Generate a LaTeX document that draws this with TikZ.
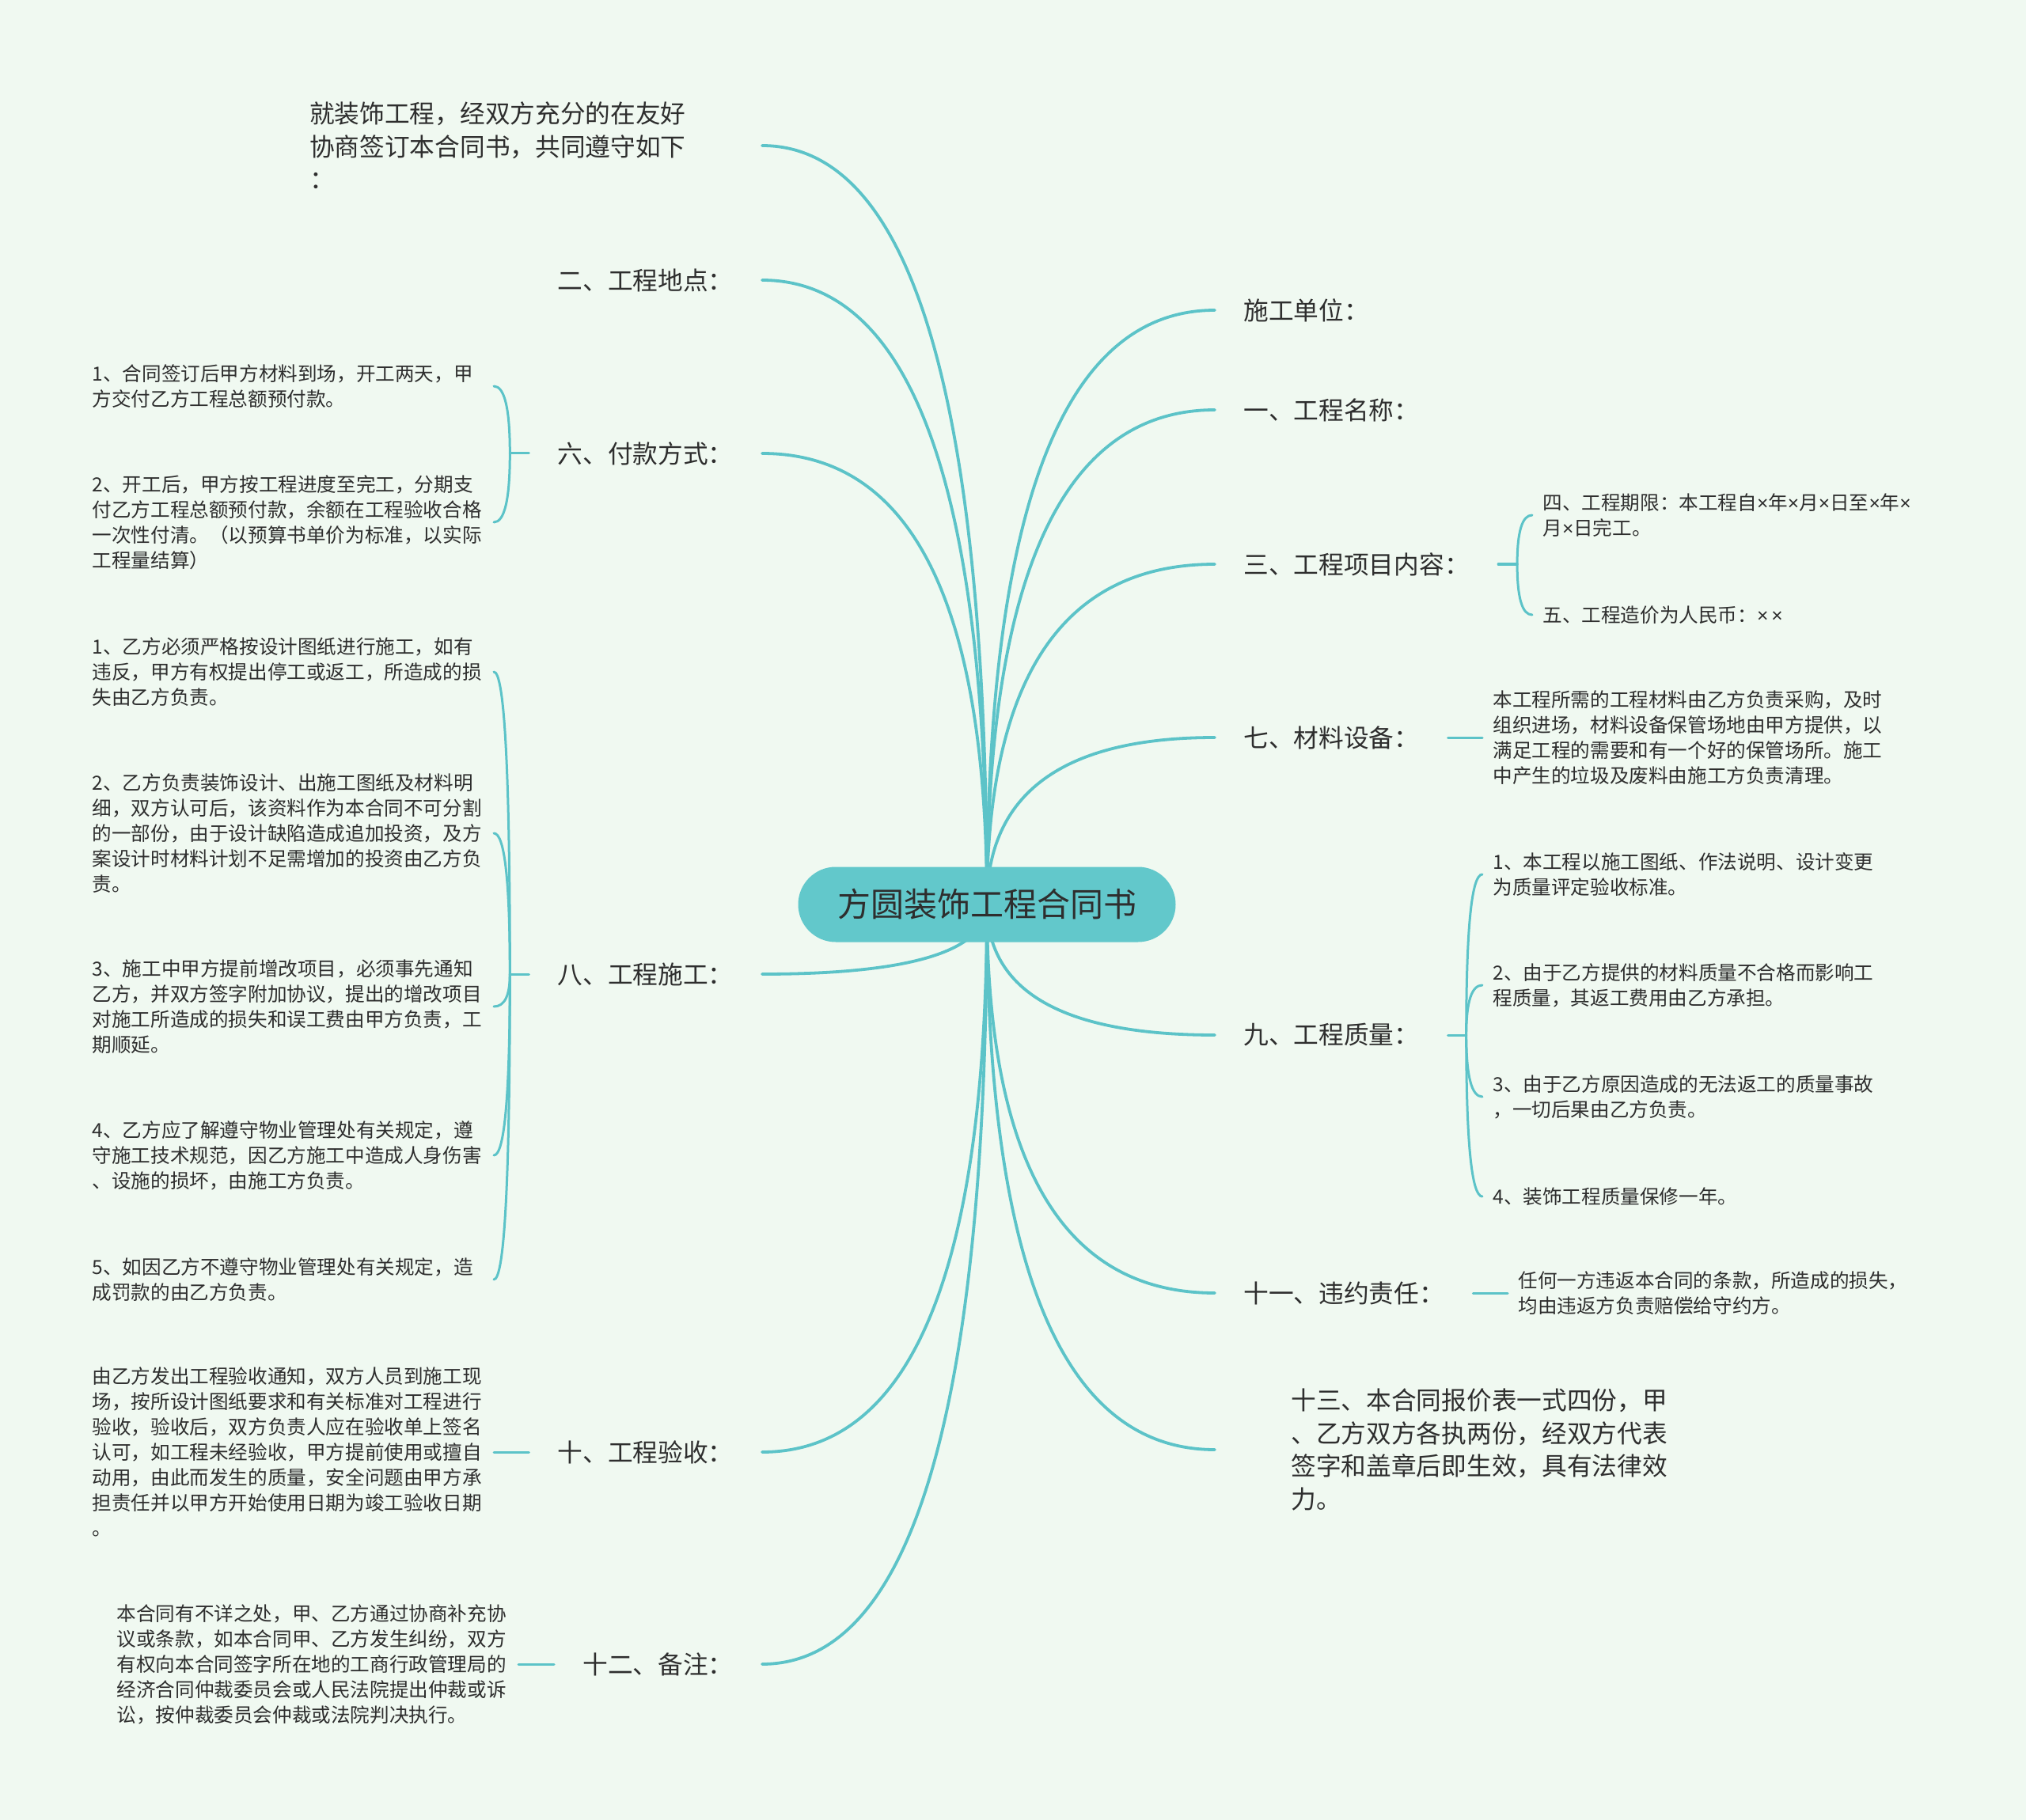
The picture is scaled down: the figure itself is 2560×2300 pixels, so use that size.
\documentclass[tikz,border=0pt]{standalone}
\usepackage{fontspec}
\newfontfamily\cjk{Noto Sans CJK SC}
\newfontfamily\lat{Liberation Sans}
\newcommand{\tms}{{\lat ×}}
\usetikzlibrary{calc}
\definecolor{bgc}{HTML}{F0F9F1}
\definecolor{linec}{HTML}{5CC3C8}
\definecolor{rootc}{HTML}{62C8CB}
\definecolor{txt}{HTML}{2E2E2E}
\pgfdeclarelayer{bg}
\pgfsetlayers{bg,main}
\begin{document}
\begin{tikzpicture}[x=0.5pt,y=-0.5pt,
  qto/.style={to path={.. controls ($(\tikztostart)!2/3!(\tikztostart |- \tikztotarget)$) and ($(\tikztotarget)!2/3!(\tikztostart |- \tikztotarget)$) .. (\tikztotarget)}},
  mainline/.style={draw=linec,line width=1.9pt,line cap=round},
  subline/.style={draw=linec,line width=1.5pt,line cap=round},
  rootnode/.style={fill=rootc,rounded corners=23.75pt,minimum width=238.5pt,minimum height=47.5pt,inner sep=0pt,font=\cjk\fontsize{21}{25}\selectfont,text=txt},
  lvl/.style={inner xsep=18pt,inner ysep=2pt,font=\cjk\fontsize{15.85}{20.75}\selectfont,text=txt},
  lvlL/.style={lvl,anchor=east},
  lvlR/.style={lvl,anchor=west},
  lvlwide/.style={inner xsep=48pt,inner ysep=2pt,text width=237.75pt,align=left,font=\cjk\fontsize{15.85}{20.75}\selectfont,text=txt},
  leaf/.style={inner xsep=6.5pt,inner ysep=0pt,align=left,font=\cjk\fontsize{12.3}{16}\selectfont,text=txt},
  leafL/.style={leaf,anchor=east,text width=247pt},
  leafR/.style={leaf,anchor=west},
]
\useasboundingbox (0,0) rectangle (2560,2300);

% root
\node[rootnode] (root) at (1247,1143) {方圆装饰工程合同书};

% left level 1
\node[lvlwide,anchor=east] (intro) at (963,184) {就装饰工程，经双方充分的在友好\\协商签订本合同书，共同遵守如下\\：};
\node[lvlL] (n2) at (963,354) {二、工程地点：};
\node[lvlL] (n6) at (963,573) {六、付款方式：};
\node[lvlL] (n8) at (963,1231) {八、工程施工：};
\node[lvlL] (n10) at (963,1835) {十、工程验收：};
\node[lvlL] (n12) at (963,2103) {十二、备注：};

% right level 1
\node[lvlR] (n0) at (1535,392) {施工单位：};
\node[lvlR] (n1) at (1535,518) {一、工程名称：};
\node[lvlR] (n3) at (1535,713) {三、工程项目内容：};
\node[lvlR] (n7) at (1535,932) {七、材料设备：};
\node[lvlR] (n9) at (1535,1308) {九、工程质量：};
\node[lvlR] (n11) at (1535,1634) {十一、违约责任：};
\node[lvlwide,anchor=west] (n13) at (1535,1832) {十三、本合同报价表一式四份，甲\\、乙方双方各执两份，经双方代表\\签字和盖章后即生效，具有法律效\\力。};

% left leaves
\node[leafL] (c6a) at (624,488) {1、合同签订后甲方材料到场，开工两天，甲\\方交付乙方工程总额预付款。};
\node[leafL] (c6b) at (624,660) {2、开工后，甲方按工程进度至完工，分期支\\付乙方工程总额预付款，余额在工程验收合格\\一次性付清。（以预算书单价为标准，以实际\\工程量结算）};
\node[leafL] (c8a) at (624,849) {1、乙方必须严格按设计图纸进行施工，如有\\违反，甲方有权提出停工或返工，所造成的损\\失由乙方负责。};
\node[leafL] (c8b) at (624,1053) {2、乙方负责装饰设计、出施工图纸及材料明\\细，双方认可后，该资料作为本合同不可分割\\的一部份，由于设计缺陷造成追加投资，及方\\案设计时材料计划不足需增加的投资由乙方负\\责。};
\node[leafL] (c8c) at (624,1272) {3、施工中甲方提前增改项目，必须事先通知\\乙方，并双方签字附加协议，提出的增改项目\\对施工所造成的损失和误工费由甲方负责，工\\期顺延。};
\node[leafL] (c8d) at (624,1460) {4、乙方应了解遵守物业管理处有关规定，遵\\守施工技术规范，因乙方施工中造成人身伤害\\、设施的损坏，由施工方负责。};
\node[leafL] (c8e) at (624,1617) {5、如因乙方不遵守物业管理处有关规定，造\\成罚款的由乙方负责。};
\node[leafL] (c10) at (624,1835) {由乙方发出工程验收通知，双方人员到施工现\\场，按所设计图纸要求和有关标准对工程进行\\验收，验收后，双方负责人应在验收单上签名\\认可，如工程未经验收，甲方提前使用或擅自\\动用，由此而发生的质量，安全问题由甲方承\\担责任并以甲方开始使用日期为竣工验收日期\\。};
\node[leafL] (c12) at (655,2103) {本合同有不详之处，甲、乙方通过协商补充协\\议或条款，如本合同甲、乙方发生纠纷，双方\\有权向本合同签字所在地的工商行政管理局的\\经济合同仲裁委员会或人民法院提出仲裁或诉\\讼，按仲裁委员会仲裁或法院判决执行。};

% right leaves
\node[leafR] (c3a) at (1936,651) {四、工程期限：本工程自\tms 年\tms 月\tms 日至\tms 年\tms\\月\tms 日完工。};
\node[leafR] (c3b) at (1936,777) {五、工程造价为人民币：\tms\,\tms};
\node[leafR] (c7) at (1873,932) {本工程所需的工程材料由乙方负责采购，及时\\组织进场，材料设备保管场地由甲方提供，以\\满足工程的需要和有一个好的保管场所。施工\\中产生的垃圾及废料由施工方负责清理。};
\node[leafR] (c9a) at (1873,1105) {1、本工程以施工图纸、作法说明、设计变更\\为质量评定验收标准。};
\node[leafR] (c9b) at (1873,1245) {2、由于乙方提供的材料质量不合格而影响工\\程质量，其返工费用由乙方承担。};
\node[leafR] (c9c) at (1873,1386) {3、由于乙方原因造成的无法返工的质量事故\\，一切后果由乙方负责。};
\node[leafR] (c9d) at (1873,1512) {4、装饰工程质量保修一年。};
\node[leafR] (c11) at (1905,1634) {任何一方违返本合同的条款，所造成的损失，\\均由违返方负责赔偿给守约方。};

% bracket points
\coordinate (b6) at ($(n6.west)+(-24,0)$);
\coordinate (b8) at ($(n8.west)+(-24,0)$);
\coordinate (b3) at ($(n3.east)+(24,0)$);
\coordinate (b9) at ($(n9.east)+(23,0)$);

\begin{pgfonlayer}{bg}
\fill[bgc] (0,0) rectangle (2560,2300);
\foreach \n in {intro,n2,n6,n8,n10,n12} \draw[mainline] (root.center) to[qto] (\n.east);
\foreach \n in {n0,n1,n3,n7,n9,n11,n13} \draw[mainline] (root.center) to[qto] (\n.west);
% left sub-branches
\draw[subline] (n6.west) -- (b6);
\foreach \c in {c6a,c6b} \draw[subline] (b6) to[qto] (\c.east);
\draw[subline] (n8.west) -- (b8);
\foreach \c in {c8a,c8b,c8c,c8d,c8e} \draw[subline] (b8) to[qto] (\c.east);
\draw[subline] (n10.west) -- (c10.east);
\draw[subline] (n12.west) -- (c12.east);
% right sub-branches
\draw[subline] (n3.east) -- (b3);
\foreach \c in {c3a,c3b} \draw[subline] (b3) to[qto] (\c.west);
\draw[subline] (n7.east) -- (c7.west);
\draw[subline] (n9.east) -- (b9);
\foreach \c in {c9a,c9b,c9c,c9d} \draw[subline] (b9) to[qto] (\c.west);
\draw[subline] (n11.east) -- (c11.west);
\end{pgfonlayer}
\end{tikzpicture}
\end{document}
